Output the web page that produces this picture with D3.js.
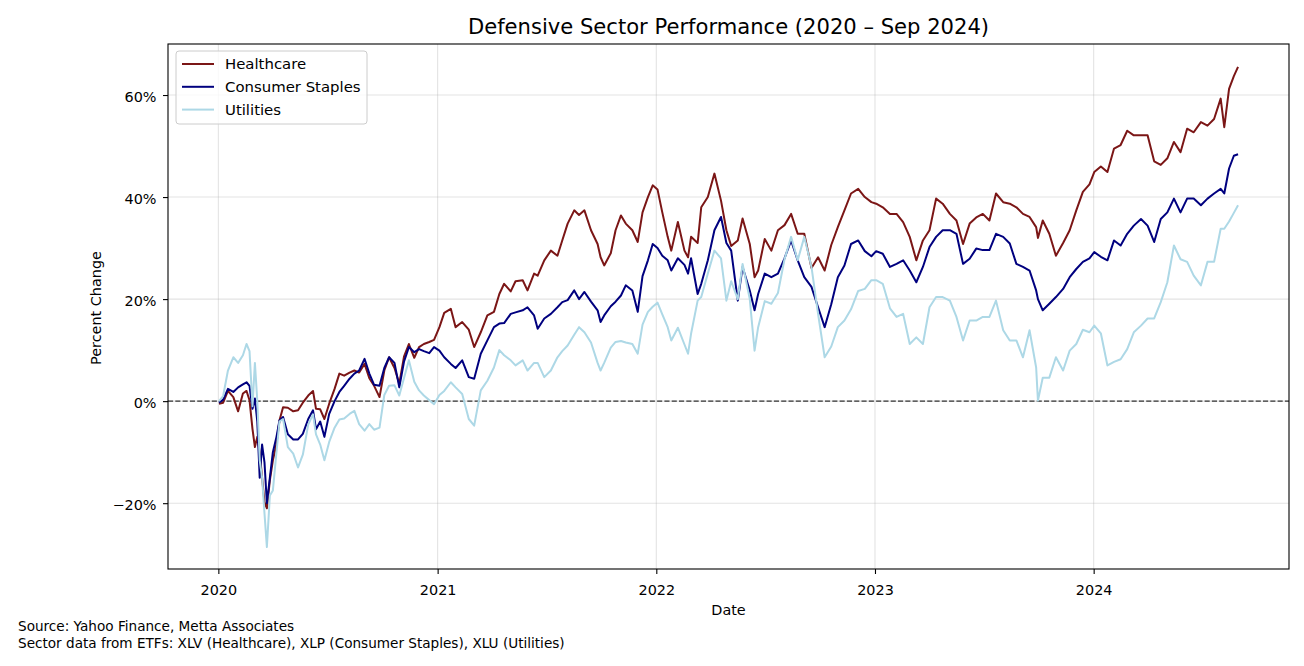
<!DOCTYPE html>
<html>
<head>
<meta charset="utf-8">
<script src="https://cdn.jsdelivr.net/npm/d3@7"></script>
<style>
    body { margin: 0; background: #fff; }
    svg { font-family: "DejaVu Sans", sans-serif; }
</style>
</head>
<body>
<div id="wrapper"></div>
<script>
// Data (percent change since 2020-01-02)
const dates = [
    "2020-01-02","2020-01-09","2020-01-17","2020-01-26","2020-02-03","2020-02-11","2020-02-17","2020-02-22","2020-02-27","2020-03-02",
    "2020-03-06","2020-03-10","2020-03-14","2020-03-18","2020-03-22","2020-03-27","2020-04-01","2020-04-07","2020-04-12","2020-04-18",
    "2020-04-26","2020-05-05","2020-05-13","2020-05-21","2020-05-30","2020-06-07","2020-06-12","2020-06-19","2020-06-26","2020-07-04",
    "2020-07-13","2020-07-21","2020-07-29","2020-08-07","2020-08-15","2020-08-23","2020-09-01","2020-09-09","2020-09-17","2020-09-26",
    "2020-10-04","2020-10-12","2020-10-21","2020-10-29","2020-11-06","2020-11-14","2020-11-23","2020-12-01","2020-12-09","2020-12-18",
    "2020-12-26","2021-01-04","2021-01-12","2021-01-23","2021-01-31","2021-02-11","2021-02-22","2021-03-03","2021-03-14","2021-03-25",
    "2021-04-05","2021-04-14","2021-04-22","2021-05-03","2021-05-11","2021-05-23","2021-05-31","2021-06-11","2021-06-17","2021-06-28",
    "2021-07-09","2021-07-20","2021-07-28","2021-08-06","2021-08-17","2021-08-25","2021-09-03","2021-09-14","2021-09-25","2021-09-30",
    "2021-10-06","2021-10-17","2021-10-25","2021-11-03","2021-11-11","2021-11-22","2021-12-01","2021-12-09","2021-12-18","2021-12-26",
    "2022-01-03","2022-01-11","2022-01-20","2022-01-26","2022-02-06","2022-02-17","2022-02-23","2022-02-28","2022-03-11","2022-03-17",
    "2022-03-28","2022-04-08","2022-04-19","2022-04-28","2022-05-06","2022-05-17","2022-05-25","2022-06-06","2022-06-14","2022-06-20",
    "2022-07-01","2022-07-12","2022-07-23","2022-08-03","2022-08-14","2022-08-25","2022-09-05","2022-09-17","2022-09-28","2022-10-09",
    "2022-10-20","2022-10-31","2022-11-11","2022-11-22","2022-12-04","2022-12-15","2022-12-26","2023-01-03","2023-01-14","2023-01-26",
    "2023-02-06","2023-02-17","2023-02-28","2023-03-11","2023-03-22","2023-04-02","2023-04-13","2023-04-24","2023-05-06","2023-05-17",
    "2023-05-28","2023-06-08","2023-06-19","2023-06-30","2023-07-11","2023-07-22","2023-08-03","2023-08-14","2023-08-25","2023-09-05",
    "2023-09-16","2023-09-27","2023-09-30","2023-10-08","2023-10-19","2023-10-30","2023-11-11","2023-11-22","2023-12-03","2023-12-14",
    "2023-12-25","2024-01-02","2024-01-13","2024-01-24","2024-02-04","2024-02-15","2024-02-26","2024-03-08","2024-03-20","2024-03-31",
    "2024-04-11","2024-04-22","2024-05-03","2024-05-14","2024-05-25","2024-06-05","2024-06-16","2024-06-28","2024-07-09","2024-07-20",
    "2024-07-31","2024-08-06","2024-08-14","2024-08-22","2024-08-29"
];
const healthcare = [
    -0.5,-0.3,2.0,0.8,-2.0,1.5,2.0,0.2,-5.5,-9.0,
    -7.0,-10.0,-15.0,-19.8,-21.0,-15.5,-11.6,-8.4,-3.8,-1.2,
    -1.3,-2.0,-1.8,-0.3,1.1,2.0,-1.5,-1.6,-3.5,-0.5,
    2.4,5.4,5.0,5.6,6.0,5.6,7.3,4.5,3.0,0.8,
    6.0,8.6,6.5,3.4,8.8,11.2,8.5,10.6,11.2,11.6,
    12.0,14.5,17.3,18.1,14.5,15.5,14.0,10.6,13.5,16.8,
    17.5,21.0,23.0,21.5,23.5,23.7,21.7,25.0,24.6,27.6,
    29.5,28.5,31.5,34.8,37.4,36.5,37.4,33.5,30.8,28.2,
    26.6,29.0,33.5,36.4,34.8,33.5,31.2,37.0,40.0,42.3,
    41.5,37.0,32.2,29.5,35.1,29.5,28.2,32.2,31.0,38.0,
    40.0,44.6,39.3,33.5,30.4,31.5,35.8,30.8,24.3,25.6,
    31.8,29.5,33.5,34.5,36.7,32.8,32.8,26.1,28.2,25.6,
    30.6,34.1,37.4,40.7,41.6,40.0,39.0,38.7,38.0,36.7,
    36.7,35.1,32.2,27.6,31.5,33.5,39.7,38.7,36.7,35.4,
    30.8,34.8,36.0,36.7,35.4,40.7,39.0,38.7,38.0,36.7,
    36.1,34.1,32.0,35.4,32.8,28.5,31.0,33.5,37.4,41.0,
    42.5,44.9,46.0,44.9,49.5,50.2,53.0,52.1,52.1,52.1,
    47.0,46.3,47.6,50.8,48.8,53.4,52.7,54.7,54.0,55.3,
    59.3,53.7,61.2,63.7,65.5
];
const staples = [
    -0.3,0.3,2.4,1.8,2.7,3.3,3.7,3.0,-1.5,0.5,
    -4.0,-15.0,-8.5,-12.0,-20.0,-15.0,-10.0,-7.0,-3.8,-3.1,
    -6.5,-7.5,-7.5,-6.4,-3.5,-1.8,-5.5,-4.0,-7.0,-2.5,
    0.0,1.8,3.0,4.4,5.4,6.0,8.3,5.4,3.2,3.0,
    6.5,8.6,7.5,2.7,7.8,10.6,9.6,10.2,9.8,9.4,
    10.6,9.9,8.6,7.3,6.5,8.0,4.7,4.4,9.3,11.9,
    14.5,15.2,15.3,17.1,17.4,17.8,18.4,16.8,14.2,16.2,
    17.1,18.4,19.4,19.8,21.7,20.0,21.4,19.5,17.8,15.5,
    16.8,18.6,19.5,20.7,22.7,21.7,17.5,24.5,27.6,30.8,
    30.0,28.5,27.6,25.6,28.0,26.7,25.0,28.0,21.0,23.0,
    27.6,33.5,36.1,31.0,29.5,19.7,26.3,21.7,17.8,21.0,
    25.0,24.3,25.0,28.0,31.5,27.6,24.3,22.4,18.4,14.5,
    19.0,24.3,26.6,30.8,31.5,29.4,28.4,29.4,28.9,26.3,
    26.9,27.6,25.6,23.3,26.3,30.2,32.2,33.5,33.5,32.8,
    26.9,27.9,29.9,29.6,29.6,32.8,32.2,30.9,26.9,26.3,
    25.6,21.7,20.0,17.8,19.1,20.4,22.0,24.3,25.9,27.3,
    28.0,29.2,28.3,27.6,31.5,30.5,32.8,34.4,35.7,34.4,
    31.2,35.7,37.0,39.7,37.0,39.7,39.7,38.4,39.7,40.7,
    41.6,40.7,45.6,48.1,48.4
];
const utilities = [
    0.0,1.0,6.0,8.6,7.5,9.0,11.2,9.8,-1.0,7.5,
    0.0,-11.6,-15.0,-22.0,-28.6,-18.5,-17.5,-10.0,-4.0,-3.5,
    -9.0,-10.3,-13.0,-10.5,-4.6,-2.6,-6.5,-8.5,-11.6,-8.0,
    -5.2,-3.6,-3.4,-2.5,-1.9,-4.5,-5.8,-4.5,-5.6,-5.2,
    1.2,3.0,3.1,1.1,4.6,8.0,3.8,2.1,1.1,0.2,
    -0.6,1.2,2.0,3.7,2.7,1.4,-3.5,-4.8,2.1,4.0,
    6.6,10.0,9.0,8.0,7.0,8.0,6.0,7.5,7.5,4.7,
    6.0,8.6,9.8,10.9,13.0,14.5,13.5,11.5,7.5,6.0,
    7.5,10.5,11.6,11.8,11.5,11.2,9.3,15.0,17.5,18.5,
    19.3,17.0,14.5,11.9,14.4,11.1,9.3,13.2,19.7,20.4,
    25.0,29.5,28.0,19.7,23.5,20.0,26.9,20.0,9.9,14.5,
    19.6,19.1,21.2,27.8,32.2,27.6,32.2,26.3,17.1,8.6,
    10.7,14.5,15.8,18.0,21.6,22.0,23.7,23.7,23.0,18.2,
    16.5,17.1,11.2,12.5,11.2,18.4,20.4,20.4,19.7,16.5,
    11.9,15.8,15.8,16.5,16.5,19.7,13.9,11.9,11.9,8.6,
    13.9,6.6,0.1,4.6,4.6,8.6,6.0,9.9,11.2,14.0,
    13.5,14.8,13.3,7.0,7.7,8.2,10.2,13.5,14.8,16.2,
    16.2,19.4,23.3,30.5,27.8,27.3,24.6,22.7,27.3,27.3,
    33.8,33.8,35.2,36.9,38.4
];

const seriesNames = ["Healthcare", "Consumer Staples", "Utilities"];
const seriesValues = [healthcare, staples, utilities];
const seriesColors = ["#7b1616", "#00007f", "#add8e6"];
const yTickValues = [-20, 0, 20, 40, 60];
const xTickYears = [2020, 2021, 2022, 2023, 2024];
const sourceLines = [
    "Source: Yahoo Finance, Metta Associates",
    "Sector data from ETFs: XLV (Healthcare), XLP (Consumer Staples), XLU (Utilities)"
];

// Constants
const DOM_ELEMENT_ID = { WRAPPER: "#wrapper" };
const WIDTH = 1304;
const HEIGHT = 666;
const LABEL_SIZE = 14.4;

// Dimensions
const dimensions = (() => {
    let dimensions = {
        width: WIDTH,
        height: HEIGHT,
        margin: { top: 44, right: 15, bottom: 97, left: 168 },
    };
    dimensions.boundedWidth = dimensions.width - dimensions.margin.left - dimensions.margin.right;
    dimensions.boundedHeight = dimensions.height - dimensions.margin.top - dimensions.margin.bottom;
    return dimensions;
})();

function drawLineChart() {
    const parseDate = d3.timeParse("%Y-%m-%d");
    const dateValues = dates.map(parseDate);

    const wrapper = d3.select(DOM_ELEMENT_ID.WRAPPER)
        .append("svg")
        .attr("width", dimensions.width)
        .attr("height", dimensions.height);

    const bounds = wrapper.append("g")
        .attr("transform", `translate(${dimensions.margin.left},${dimensions.margin.top})`);

    // Scales (5% padding on x like matplotlib)
    const [minDate, maxDate] = d3.extent(dateValues);
    const pad = (maxDate - minDate) * 0.05;
    const xScale = d3.scaleTime()
        .domain([new Date(+minDate - pad), new Date(+maxDate + pad)])
        .range([0, dimensions.boundedWidth]);

    const yScale = d3.scaleLinear()
        .domain([-32.9, 70])
        .range([dimensions.boundedHeight, 0]);

    const xTicks = xTickYears.map(y => new Date(y, 0, 1));

    // Grid
    const grid = bounds.append("g").attr("stroke", "#b0b0b0").attr("stroke-opacity", 0.35).attr("stroke-width", 1.1);
    grid.selectAll(".gx").data(xTicks).join("line")
        .attr("x1", d => xScale(d)).attr("x2", d => xScale(d))
        .attr("y1", 0).attr("y2", dimensions.boundedHeight);
    grid.selectAll(".gy").data(yTickValues).join("line")
        .attr("x1", 0).attr("x2", dimensions.boundedWidth)
        .attr("y1", d => yScale(d)).attr("y2", d => yScale(d));

    // Zero line
    bounds.append("line")
        .attr("x1", 0).attr("x2", dimensions.boundedWidth)
        .attr("y1", yScale(0)).attr("y2", yScale(0))
        .attr("stroke", "#333")
        .attr("stroke-width", 1.4)
        .attr("stroke-dasharray", "5.1,2.2");

    // Lines
    const lineGenerator = d3.line()
        .x((d, i) => xScale(dateValues[i]))
        .y(d => yScale(d));

    bounds.append("g")
        .selectAll("path")
        .data(seriesValues)
        .join("path")
        .attr("d", d => lineGenerator(d))
        .attr("fill", "none")
        .attr("stroke", (d, i) => seriesColors[i])
        .attr("stroke-width", 2)
        .attr("stroke-linejoin", "round");

    // Axes
    const fmt = d3.format(".0f");
    const xAxis = bounds.append("g")
        .attr("transform", `translate(0,${dimensions.boundedHeight})`)
        .call(d3.axisBottom(xScale).tickValues(xTicks).tickFormat(d3.timeFormat("%Y")).tickSizeInner(5).tickSizeOuter(0).tickPadding(11));
    const yAxis = bounds.append("g")
        .call(d3.axisLeft(yScale).tickValues(yTickValues).tickFormat(d => fmt(d) + "%").tickSizeInner(5).tickSizeOuter(0).tickPadding(6.5));
    yAxis.selectAll("text").attr("dy", "0.45em");
    [xAxis, yAxis].forEach(a => {
        a.selectAll("text").attr("font-size", LABEL_SIZE).attr("fill", "#000").attr("font-family", "DejaVu Sans");
        a.selectAll(".tick line").attr("stroke", "#000").attr("stroke-width", 1.1);
        a.select(".domain").remove();
    });

    // Frame
    bounds.append("rect")
        .attr("width", dimensions.boundedWidth)
        .attr("height", dimensions.boundedHeight)
        .attr("fill", "none")
        .attr("stroke", "#000")
        .attr("stroke-width", 1.1);

    // Title and labels
    wrapper.append("text")
        .attr("x", dimensions.margin.left + dimensions.boundedWidth / 2)
        .attr("y", 34)
        .attr("text-anchor", "middle")
        .attr("font-size", 21.1)
        .text("Defensive Sector Performance (2020 \u2013 Sep 2024)");

    wrapper.append("text")
        .attr("x", dimensions.margin.left + dimensions.boundedWidth / 2)
        .attr("y", 615)
        .attr("text-anchor", "middle")
        .attr("font-size", LABEL_SIZE)
        .text("Date");

    wrapper.append("text")
        .attr("transform", `translate(101,308) rotate(-90)`)
        .attr("text-anchor", "middle")
        .attr("font-size", LABEL_SIZE)
        .text("Percent Change");

    // Source note
    wrapper.append("g").selectAll("text")
        .data(sourceLines)
        .join("text")
        .attr("x", 18)
        .attr("y", (d, i) => 631 + i * 16.5)
        .attr("font-size", 13.6)
        .text(d => d);

    // Legend
    const legend = bounds.append("g").attr("transform", "translate(8,7)");
    legend.append("rect")
        .attr("width", 191).attr("height", 73)
        .attr("rx", 3)
        .attr("fill", "#fff").attr("fill-opacity", 0.8)
        .attr("stroke", "#cccccc").attr("stroke-width", 1);
    const items = legend.selectAll(".item")
        .data(seriesNames)
        .join("g")
        .attr("transform", (d, i) => `translate(0,${13 + i * 22.8})`);
    items.append("line")
        .attr("x1", 6).attr("x2", 38)
        .attr("stroke", (d, i) => seriesColors[i])
        .attr("stroke-width", 2);
    items.append("text")
        .attr("x", 49)
        .attr("dy", "0.35em")
        .attr("font-size", 14.9)
        .text(d => d);
}
drawLineChart();
</script>
</body>
</html>
